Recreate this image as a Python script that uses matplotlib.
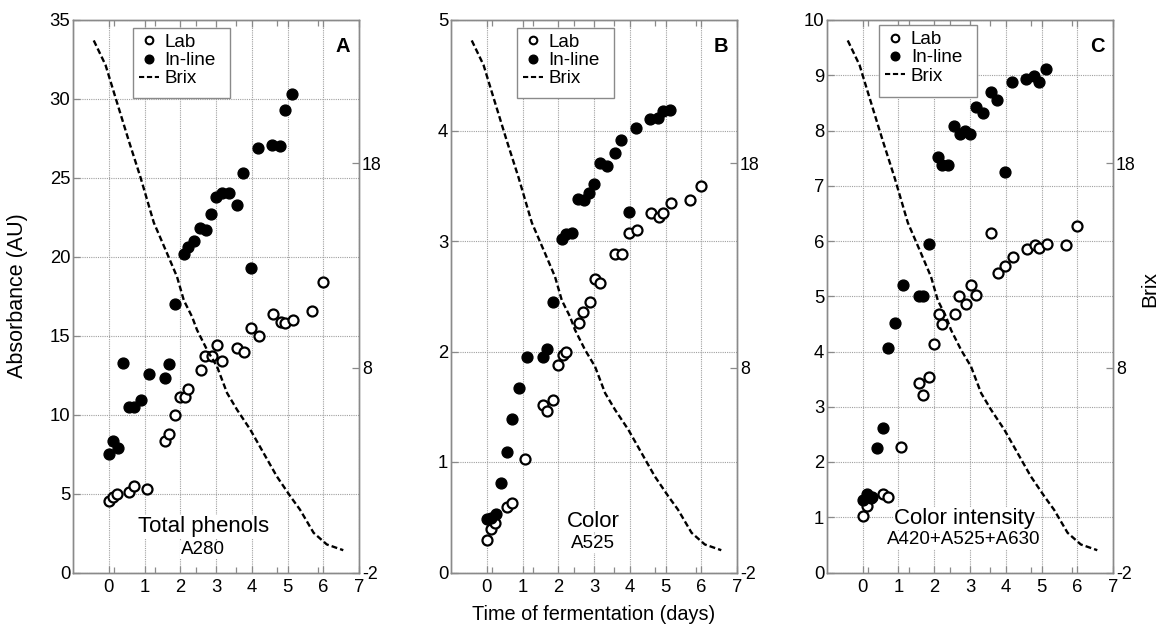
import matplotlib
matplotlib.use('Agg')
import matplotlib.pyplot as plt
from matplotlib.lines import Line2D
from matplotlib.patches import Rectangle

plt.rcParams['font.family'] = ['Liberation Sans', 'DejaVu Sans']
plt.rcParams['axes.unicode_minus'] = False

# ---------------- data ----------------
t_inline = [0.0, 0.11, 0.25, 0.40, 0.57, 0.70, 0.90, 1.13, 1.57, 1.69, 1.85, 2.10, 2.23, 2.38,
            2.55, 2.72, 2.87, 3.01, 3.18, 3.36, 3.58, 3.76, 3.97, 4.18, 4.58, 4.80, 4.92, 5.13]
t_lab = [0.0, 0.11, 0.24, 0.57, 0.72, 1.08, 1.58, 1.69, 1.84, 2.0, 2.12, 2.22, 2.57, 2.69,
         2.89, 3.04, 3.18, 3.58, 3.77, 3.99, 4.19, 4.60, 4.81, 4.94, 5.15, 5.68, 6.0]

phenols_inline = [7.5, 8.3, 7.9, 13.3, 10.5, 10.5, 10.9, 12.6, 12.35, 13.2, 17.0, 20.2, 20.6, 21.0,
                  21.8, 21.7, 22.7, 23.8, 24.05, 24.05, 23.3, 25.3, 19.3, 26.9, 27.1, 27.0, 29.3, 30.3]
phenols_lab = [4.5, 4.8, 5.0, 5.1, 5.5, 5.3, 8.3, 8.8, 10.0, 11.1, 11.1, 11.65, 12.8, 13.7,
               13.7, 14.4, 13.4, 14.25, 14.0, 15.5, 15.0, 16.4, 15.9, 15.8, 16.0, 16.55, 18.4]

color_inline = [0.48, 0.49, 0.53, 0.81, 1.09, 1.39, 1.67, 1.95, 1.95, 2.02, 2.45, 3.02, 3.06, 3.07,
                3.38, 3.37, 3.43, 3.52, 3.71, 3.68, 3.80, 3.91, 3.26, 4.02, 4.10, 4.11, 4.18, 4.19]
color_lab = [0.29, 0.39, 0.45, 0.59, 0.63, 1.03, 1.52, 1.46, 1.56, 1.88, 1.97, 2.0, 2.26, 2.36,
             2.45, 2.66, 2.62, 2.88, 2.88, 3.07, 3.10, 3.25, 3.22, 3.25, 3.34, 3.37, 3.50]

intensity_inline = [1.32, 1.42, 1.36, 2.26, 2.62, 4.07, 4.52, 5.2, 5.0, 5.0, 5.94, 7.52, 7.37, 7.37,
                    8.08, 7.93, 8.0, 7.93, 8.43, 8.31, 8.69, 8.56, 7.25, 8.88, 8.94, 8.98, 8.88, 9.11]
intensity_lab = [1.02, 1.21, 1.35, 1.42, 1.36, 2.27, 3.43, 3.21, 3.53, 4.13, 4.67, 4.49, 4.67, 5.0,
                 4.86, 5.2, 5.03, 6.15, 5.42, 5.55, 5.71, 5.86, 5.92, 5.88, 5.95, 5.92, 6.27]

brix_t = [-0.42, -0.09, 0.19, 0.56, 0.89, 1.26, 1.63, 1.91, 2.10, 2.33, 2.47, 2.75, 3.03, 3.31,
          3.59, 3.96, 4.33, 4.70, 5.08, 5.35, 5.73, 6.10, 6.56]
brix_values = [24.0, 22.8, 21.2, 19.1, 17.3, 15.1, 13.6, 12.45, 11.3, 10.5, 9.85, 8.88, 8.06, 6.77,
               5.95, 4.98, 3.84, 2.70, 1.72, 1.07, -0.06, -0.63, -0.91]

x_ticks = [0, 1, 2, 3, 4, 5, 6, 7]
brix_ticks = [-2, 8, 18]
panel_letters = ['A', 'B', 'C']
titles_main = ['Total phenols', 'Color', 'Color intensity']
titles_sub = ['A280', 'A525', 'A420+A525+A630']
y_limits = [35, 5, 10]
y_steps = [5, 1, 1]
legend_labels = ['Lab', 'In-line', 'Brix']

# ---------------- layout ----------------
W, H = 1159, 632
fig = plt.figure(figsize=(W / 100, H / 100), dpi=100)
lefts = [73, 451, 827]
ax_w = 286
top_px, bot_px = 20, 572.5
legend_boxes = [(0.2087, 0.858, 0.549, 0.986),
                (0.2297, 0.858, 0.570, 0.986),
                (0.1829, 0.861, 0.5234, 0.991)]
text_x = [0.455, 0.496, 0.479]
main_y = [0.083, 0.093, 0.098]
sub_y = [0.041, 0.052, 0.059]

spine_col = '#8a8a8a'
grid_col = '#a0a0a0'
dash = (0, (2.5, 1.3))

data_inline = [phenols_inline, color_inline, intensity_inline]
data_lab = [phenols_lab, color_lab, intensity_lab]

for i in range(3):
    ax = fig.add_axes([lefts[i] / W, 1 - bot_px / H, ax_w / W, (bot_px - top_px) / H])
    ax.set_xlim(-1, 7)
    ax.set_ylim(0, y_limits[i])
    ax.set_xticks(x_ticks)
    ax.set_xticks([-1 + k * 8 / 7 for k in range(1, 7)], minor=True)
    ax.set_yticks([v * y_steps[i] for v in range(int(y_limits[i] / y_steps[i]) + 1)])
    ax.grid(True, which='major', ls=(0, (1, 1)), color=grid_col, lw=0.8)
    ax.tick_params(which='both', direction='in', top=True, right=True, color=spine_col,
                   labelsize=13.3, width=0.9)
    ax.tick_params(which='major', length=5)
    ax.tick_params(which='minor', length=4)
    ax.tick_params(axis='x', pad=5)
    ax.tick_params(axis='y', pad=2)
    for s in ax.spines.values():
        s.set_color(spine_col)
        s.set_linewidth(1.0)

    ax.plot(t_lab, data_lab[i], 'o', mfc='white', mec='black', ms=7.2, mew=1.6, zorder=3)
    ax.plot(t_inline, data_inline[i], 'o', color='black', ms=7.8, zorder=4)

    ax2 = ax.twinx()
    ax2.set_ylim(-2, 25)
    ax2.set_yticks(brix_ticks)
    ax2.tick_params(direction='in', length=5, color=spine_col, labelsize=12.8, pad=2, width=0.9)
    for s in ax2.spines.values():
        s.set_color(spine_col)
        s.set_linewidth(1.0)
    ax2.plot(brix_t, brix_values, color='black', lw=1.7, ls=dash, zorder=2)

    x0, y0, x1, y1 = legend_boxes[i]
    ax2.add_patch(Rectangle((x0, y0), x1 - x0, y1 - y0, transform=ax.transAxes,
                            facecolor='white', edgecolor=spine_col, lw=1.0, zorder=4.8))
    handles = [
        Line2D([], [], ls='none', marker='o', mfc='white', mec='black', ms=5.5, mew=1.5),
        Line2D([], [], ls='none', marker='o', color='black', ms=6.2),
        Line2D([], [], color='black', lw=1.5, ls=dash),
    ]
    leg = ax2.legend(handles, legend_labels, loc='upper left',
                     bbox_to_anchor=(x0, y1), fontsize=13.6, frameon=False,
                     handlelength=1.05, handletextpad=0.3, borderpad=0.12,
                     labelspacing=0.05, borderaxespad=0.2)
    leg.set_zorder(5)

    ax2.text(0.969, 0.969, panel_letters[i], transform=ax.transAxes, ha='right', va='top',
             fontsize=14.5, fontweight='bold')
    bb = dict(facecolor='white', edgecolor='none', pad=0.5)
    ax2.text(text_x[i], main_y[i], titles_main[i], transform=ax.transAxes,
             ha='center', va='center', fontsize=16, bbox=bb)
    ax2.text(text_x[i], sub_y[i], titles_sub[i], transform=ax.transAxes,
             ha='center', va='center', fontsize=13.5, bbox=bb)

fig.text(18 / W, 1 - 296 / H, 'Absorbance (AU)', rotation=90, ha='center', va='center', fontsize=15.5)
fig.text(1150 / W, 1 - 289 / H, 'Brix', rotation=90, ha='center', va='center', fontsize=15)
fig.text(594 / W, 1 - 615 / H, 'Time of fermentation (days)', ha='center', va='center', fontsize=14.3)

fig.savefig('out.png', dpi=100)
